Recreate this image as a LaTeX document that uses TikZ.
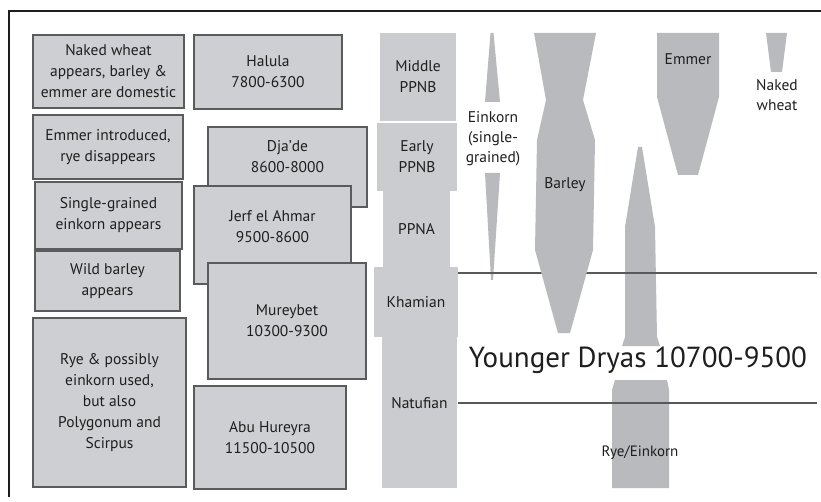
\documentclass[tikz,border=0pt]{standalone}
\usepackage{fontspec}
\setmainfont{PT Sans}
\usetikzlibrary{positioning}
\definecolor{BoxGrey}{HTML}{CDCFD2}
\definecolor{EdgeGrey}{HTML}{5A5B5D}
\definecolor{EraGrey}{HTML}{CACCCF}
\definecolor{CropGrey}{HTML}{B8BABD}
\definecolor{InkGrey}{HTML}{1E1E1E}
\definecolor{RuleGrey}{HTML}{56585A}

\begin{document}
\begin{tikzpicture}[x=1pt,y=-1pt,
  site/.style={draw=EdgeGrey,line width=1.8pt,fill=BoxGrey,align=center,inner sep=0pt,text=InkGrey,font=\fontsize{15.5}{21}\selectfont},
  era/.style={fill=EraGrey,align=center,inner sep=0pt,text=InkGrey,font=\fontsize{15.5}{21}\selectfont},
  crop/.style={fill=CropGrey},
  croplabel/.style={align=center,text=InkGrey,inner sep=0pt,font=\fontsize{15.5}{20}\selectfont},
  frameline/.style={draw=InkGrey,line width=1.2pt},
  dryasline/.style={draw=RuleGrey,line width=2.5pt}]
\useasboundingbox (0,0) rectangle (821,502);
\fill[white] (0,0) rectangle (821,502);
\draw[frameline] (9,497) -- (9,11) -- (821,11);
% left column: what was grown
\node[site,minimum width=151,minimum height=73] (nakedwheat) at (108.5,71.5) {Naked wheat\\appears, barley \&\\emmer are domestic};
\node[site,minimum width=150,minimum height=64] (emmerintro) at (108,147) {Emmer introduced,\\rye disappears};
\node[site,minimum width=147,minimum height=67] (einkornup) at (108.5,215.5) {Single-grained\\einkorn appears};
\node[site,minimum width=145,minimum height=60] (wildbarley) at (107.5,281) {Wild barley\\appears};
\node[site,minimum width=153,minimum height=169] (ryeused) at (109.5,402.5) {Rye \& possibly\\einkorn used,\\but also\\Polygonum and\\Scirpus};
% middle column: the sites
\node[site,minimum width=148,minimum height=74] (halula) at (268,72) {Halula\\7800-6300};
\node[site,minimum width=159,minimum height=80,label={[croplabel,font=\fontsize{15.5}{21}\selectfont,yshift=10pt]center:{Dja'de\\8600-8000}}] (djade) at (287.5,167) {};
\node[site,minimum width=157,minimum height=98,label={[croplabel,font=\fontsize{15.5}{21}\selectfont,yshift=8pt]center:{Jerf el Ahmar\\9500-8600}}] (jerf) at (272.5,235) {};
\node[site,minimum width=158,minimum height=116] (mureybet) at (287,321) {Mureybet\\10300-9300};
\node[site,minimum width=152,minimum height=103] (abuhureyra) at (270,437.5) {Abu Hureyra\\11500-10500};
% periods
\node[era,minimum width=76,minimum height=88] (midppnb) at (418,77) {Middle\\PPNB};
\node[era,minimum width=80,minimum height=68] (earlyppnb) at (417,157) {Early\\PPNB};
\node[era,minimum width=67,minimum height=76] (ppna) at (416.5,229) {PPNA};
\node[era,minimum width=75,minimum height=151,label={[croplabel,yshift=9.5pt]center:Natufian}] (natufian) at (419.5,412.5) {};
\node[era,minimum width=84,minimum height=70] (khamian) at (416,302) {Khamian};
% crops
\fill[crop] (490.5,33) -- (493.5,33) -- (500,102) -- (485,102) -- cycle;
\fill[crop] (485,173) -- (500,173) -- (493,280) -- (491,280) -- cycle;
\fill[crop] (638,147) -- (642,147) -- (655,227) -- (657,337) -- (660,346) -- (622,346) -- (625,337) -- (625,227) -- cycle;
\fill[crop] (615,380) -- (667,380) -- (669,390) -- (669,488) -- (612,488) -- (612,390) -- cycle;
\draw[dryasline] (458,273) -- (817,273);
\draw[dryasline] (458,403) -- (817,403);
\fill[crop] (534,33) -- (596,33) -- (583,100) -- (595,140) -- (593,250) -- (570,333) -- (558,333) -- (535,250) -- (537,140) -- (546,100) -- cycle;
\fill[crop] (657,33) -- (719,33) -- (719,97) -- (698,175) -- (678,175) -- (657,97) -- cycle;
\fill[crop] (766,33) -- (787,33) -- (782,72) -- (771,72) -- cycle;
\node[croplabel] (einkorn) at (493,139) {Einkorn\\(single-\\grained)};
\node[croplabel] (barley) at (565,185) {Barley};
\node[croplabel] (emmer) at (688,59) {Emmer};
\node[croplabel] (nakedlabel) at (777,95) {Naked\\wheat};
\node[croplabel,font=\fontsize{15}{18}\selectfont] (ryeeinkorn) at (640,453) {Rye/Einkorn};
\node[text=InkGrey,inner sep=0pt,font=\fontsize{29}{34}\selectfont] (dryas) at (638,360) {Younger Dryas 10700-9500};
\end{tikzpicture}
\end{document}
